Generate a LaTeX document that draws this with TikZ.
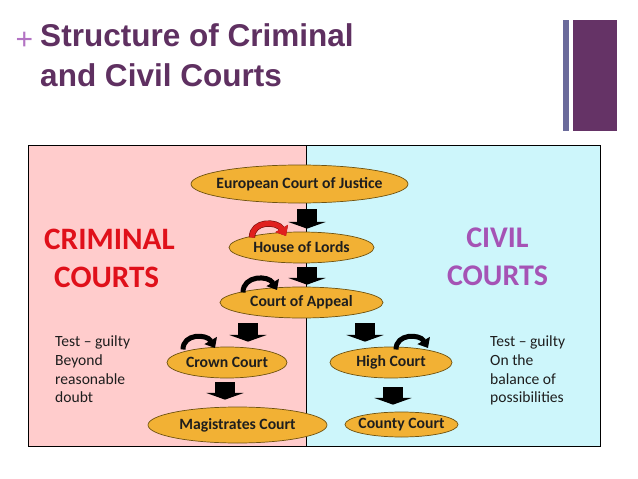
\documentclass[tikz,border=0pt]{standalone}
\usepackage{fontspec}
\setmainfont{Carlito}
\newfontfamily\titlefont{Liberation Sans}
\usetikzlibrary{shapes.geometric,arrows.meta,calc}
\definecolor{titlecol}{HTML}{5F3061}
\definecolor{pluscol}{HTML}{B373C3}
\definecolor{barblue}{HTML}{6B6B9B}
\definecolor{barpurple}{HTML}{653366}
\definecolor{crimbg}{HTML}{FFCCCC}
\definecolor{civbg}{HTML}{CDF6FB}
\definecolor{crimred}{HTML}{E0101A}
\definecolor{civpurple}{HTML}{A553B5}
\definecolor{courtfill}{HTML}{F2B134}
\definecolor{courtline}{HTML}{6E5210}
\definecolor{turnred}{HTML}{E0201E}
\definecolor{textcol}{HTML}{1E1E1E}

\begin{document}
\begin{tikzpicture}
  [x=0.03cm,y=-0.03cm,every node/.style={inner sep=0pt}]
 \tikzset{CourtStyle/.style={ellipse,draw=courtline,line width=0.6pt,fill=courtfill,text=textcol,
   font=\bfseries\fontsize{13.4}{15}\selectfont}}
 \tikzset{DownStyle/.style={line width=0.6cm,-{Triangle[width=1.11cm,length=0.2cm]},black}}
 \tikzset{TurnStyle/.style={line width=0.15cm,-{Triangle[width=0.42cm,length=0.26cm]},black}}
 \tikzset{TestStyle/.style={anchor=north west,align=left,text=textcol,font=\fontsize{13.3}{16.2}\selectfont}}

 \useasboundingbox (0,0) rectangle (638,479);
 \fill[white] (0,0) rectangle (638,479);

 % heading
 \fill[barblue] (563,20) rectangle (569,131);
 \fill[barpurple] (573,20) rectangle (617,131);
 \node[text=pluscol,font=\titlefont\fontsize{25.6}{30}\selectfont] (plus) at (24.5,41) {+};
 \node[anchor=north west,align=left,text=titlecol,font=\titlefont\bfseries\fontsize{26.9}{34.1}\selectfont]
   (title) at (40,23) {Structure of Criminal\\and Civil Courts};

 % the two halves
 \fill[crimbg] (28,145) rectangle (306,446);
 \fill[civbg] (306,145) rectangle (600,446);
 \draw[line width=0.8pt] (306,145) -- (306,446);
 \draw[line width=0.8pt] (28,145) rectangle (600,446);

 \node[anchor=north west,align=left,text=crimred,font=\bfseries\fontsize{26.6}{32.4}\selectfont]
   (crim) at (44,229) {CRIMINAL\\\hspace*{0.3cm}COURTS};
 \node[anchor=north,align=center,text=civpurple,font=\bfseries\fontsize{25.6}{32.4}\selectfont]
   (civ) at (497.5,228) {CIVIL\\COURTS};
 \node[TestStyle] (crimtest) at (55,335) {Test -- guilty\\Beyond\\reasonable\\doubt};
 \node[TestStyle] (civtest) at (490,335) {Test -- guilty\\On the\\balance of\\possibilities};

 % courts
 \node[CourtStyle,minimum width=6.51cm,minimum height=1.14cm] (ecj) at (299.5,184) {\makebox[0pt]{European Court of Justice}};
 \node[CourtStyle,minimum width=4.35cm,minimum height=0.93cm] (hol) at (301.5,247.5) {\makebox[0pt]{House of Lords}};
 \node[CourtStyle,minimum width=4.89cm,minimum height=0.93cm] (coa) at (301.5,302.5) {\makebox[0pt]{Court of Appeal}};
 \node[CourtStyle,minimum width=3.6cm,minimum height=0.93cm] (crown) at (227,362.5) {\makebox[0pt]{Crown Court}};
 \node[CourtStyle,minimum width=3.66cm,minimum height=0.93cm] (high) at (391,362.5) {\makebox[0pt]{High Court}};
 \node[CourtStyle,minimum width=5.37cm,minimum height=1.08cm] (mag) at (237.5,425) {\makebox[0pt]{Magistrates Court}};
 \node[CourtStyle,minimum width=3.39cm,minimum height=0.75cm] (county) at (401.5,424.5) {\makebox[0pt]{County Court}};

 % appeals go down
 \draw[DownStyle] ($(ecj.south)+(7.5,6)$) -- ($(hol.north)+(5.5,-3)$);
 \draw[DownStyle] ($(hol.south)+(5.5,4)$) -- ($(coa.north)+(5.5,-2)$);
 \draw[DownStyle] ($(coa.south)+(-53.5,5)$) -- ($(crown.north)+(21,-5)$);
 \draw[DownStyle] ($(coa.south)+(63.5,5)$) -- ($(high.north)+(-26,-5)$);
 \draw[DownStyle] ($(crown.south)+(-2,4)$) -- ($(mag.north)+(-12.5,-7)$);
 \draw[DownStyle] ($(high.south)+(2,9)$) -- ($(county.north)+(-8.5,-7)$);

 % bound by own decisions
 \draw[TurnStyle,color=turnred,preaction={draw=turnred!55!black,line width=0.19cm}]
   ($(hol)+(-49.5,-10)$) to[out=90,in=120,looseness=1.3] ($(hol)+(-15.5,-11.5)$);
 \draw[TurnStyle] ($(coa)+(-58.5,-10)$) to[out=90,in=120,looseness=1.3] ($(coa)+(-24.5,-12.5)$);
 \draw[TurnStyle] ($(crown)+(-44,-13)$) to[out=90,in=120,looseness=1.3] ($(crown)+(-12,-14.5)$);
 \draw[TurnStyle] ($(high)+(5,-13)$) to[out=90,in=120,looseness=1.3] ($(high)+(37,-14.5)$);

\end{tikzpicture}
\end{document}
